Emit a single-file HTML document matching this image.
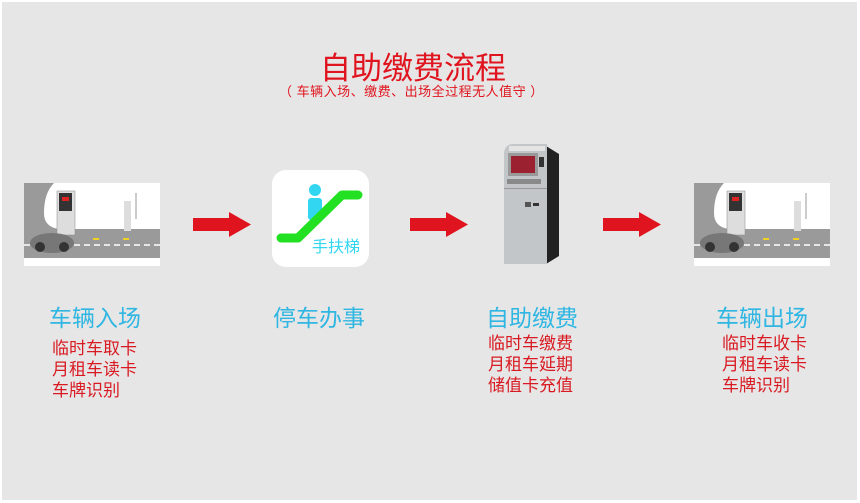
<!DOCTYPE html>
<html><head><meta charset="utf-8"><style>
body{margin:0;width:860px;height:503px;background:#fff;overflow:hidden;font-family:"Liberation Sans","Noto Sans CJK SC",sans-serif}
#bg{position:absolute;left:2px;top:2px;width:855px;height:498px;background:#e6e6e6}
.a{position:absolute;white-space:nowrap}
.t{color:#e0141e;font-size:31px;left:320px;top:43px;letter-spacing:0}
.s{color:#e0141e;font-size:13px;left:279px;top:81px;letter-spacing:0.5px}
.b{color:#2fb6e2;font-size:23px;top:299px}
.l{color:#d91a22;font-size:17px;line-height:21px}
</style></head><body>
<div id="bg"></div>
<div class="a t">自助缴费流程</div>
<div class="a s">（ 车辆入场、缴费、出场全过程无人值守 ）</div>

<!-- entry scene -->
<svg class="a" style="left:24px;top:183px" width="136" height="83" viewBox="0 0 136 83">
<rect width="136" height="83" fill="#fff"/>
<path d="M0 0H30Q20 10 20 30Q20 44 35 46H136V75H0Z" fill="#9a9a9a"/>
<line x1="0" y1="62" x2="136" y2="62" stroke="#fff" stroke-width="1.5" stroke-dasharray="6 4"/>
<rect x="33" y="8" width="18" height="44" fill="#ddd" stroke="#888" stroke-width="0.5"/>
<rect x="35" y="10" width="13" height="18" fill="#333"/><rect x="38" y="14" width="7" height="4" fill="#d22"/>
<rect x="100" y="18" width="7" height="30" fill="#ddd"/><rect x="111" y="10" width="2" height="26" fill="#ccc"/>
<path d="M69 56h6M99 56h6" stroke="#f0d020" stroke-width="2"/>
<ellipse cx="28" cy="60" rx="22" ry="10" fill="#777"/><circle cx="16" cy="64" r="5" fill="#333"/><circle cx="40" cy="64" r="5" fill="#333"/>
</svg>
<svg class="a" style="left:193px;top:212px" width="58" height="25"><path d="M0 6H36V0L58 12.5L36 25V19H0Z" fill="#e0141e"/></svg>

<!-- escalator -->
<div class="a" style="left:272px;top:170px;width:97px;height:97px;background:#fff;border-radius:14px"></div>
<svg class="a" style="left:272px;top:170px" width="97" height="97">
<circle cx="43" cy="20" r="6" fill="#33d6f0"/><rect x="36" y="28" width="14" height="22" rx="3" fill="#33d6f0"/>
<path d="M9 68H26L70 25H86" fill="none" stroke="#22e022" stroke-width="9" stroke-linecap="round" stroke-linejoin="round"/>
<text x="40" y="82" font-size="16" fill="#33d6f0" font-family="Liberation Sans,Noto Sans CJK SC,sans-serif">手扶梯</text>
</svg>
<svg class="a" style="left:410px;top:212px" width="58" height="25"><path d="M0 6H36V0L58 12.5L36 25V19H0Z" fill="#e0141e"/></svg>

<!-- kiosk -->
<svg class="a" style="left:500px;top:140px" width="62" height="126">
<path d="M46 6L59 14V116L46 124Z" fill="#222"/>
<path d="M4 124V14Q4 4 14 4H47V124Z" fill="#c2c6c9"/>
<rect x="9" y="6" width="36" height="5" fill="#e4e4e4"/>
<rect x="8" y="13" width="30" height="23" fill="#999"/><rect x="11" y="16" width="24" height="17" fill="#9b2030"/>
<rect x="39" y="17" width="5" height="10" fill="#333"/>
<rect x="7" y="39" width="34" height="5" fill="#8a8a8a"/>
<rect x="4" y="48" width="43" height="1" fill="#999"/>
<rect x="25" y="62" width="6" height="5" fill="#555"/><rect x="33" y="63" width="6" height="3" fill="#333"/>
</svg>
<svg class="a" style="left:603px;top:212px" width="58" height="25"><path d="M0 6H36V0L58 12.5L36 25V19H0Z" fill="#e0141e"/></svg>

<!-- exit scene -->
<svg class="a" style="left:694px;top:183px" width="136" height="83" viewBox="0 0 136 83">
<rect width="136" height="83" fill="#fff"/>
<path d="M0 0H30Q20 10 20 30Q20 44 35 46H136V75H0Z" fill="#9a9a9a"/>
<line x1="0" y1="62" x2="136" y2="62" stroke="#fff" stroke-width="1.5" stroke-dasharray="6 4"/>
<rect x="33" y="8" width="18" height="44" fill="#ddd" stroke="#888" stroke-width="0.5"/>
<rect x="35" y="10" width="13" height="18" fill="#333"/><rect x="38" y="14" width="7" height="4" fill="#d22"/>
<rect x="100" y="18" width="7" height="30" fill="#ddd"/><rect x="111" y="10" width="2" height="26" fill="#ccc"/>
<path d="M69 56h6M99 56h6" stroke="#f0d020" stroke-width="2"/>
<ellipse cx="28" cy="60" rx="22" ry="10" fill="#777"/><circle cx="16" cy="64" r="5" fill="#333"/><circle cx="40" cy="64" r="5" fill="#333"/>
</svg>

<div class="a b" style="left:49px">车辆入场</div>
<div class="a b" style="left:273px">停车办事</div>
<div class="a b" style="left:486px">自助缴费</div>
<div class="a b" style="left:716px">车辆出场</div>

<div class="a l" style="left:52px;top:338px">临时车取卡<br>月租车读卡<br>车牌识别</div>
<div class="a l" style="left:488px;top:333px">临时车缴费<br>月租车延期<br>储值卡充值</div>
<div class="a l" style="left:722px;top:333px">临时车收卡<br>月租车读卡<br>车牌识别</div>
</body></html>
